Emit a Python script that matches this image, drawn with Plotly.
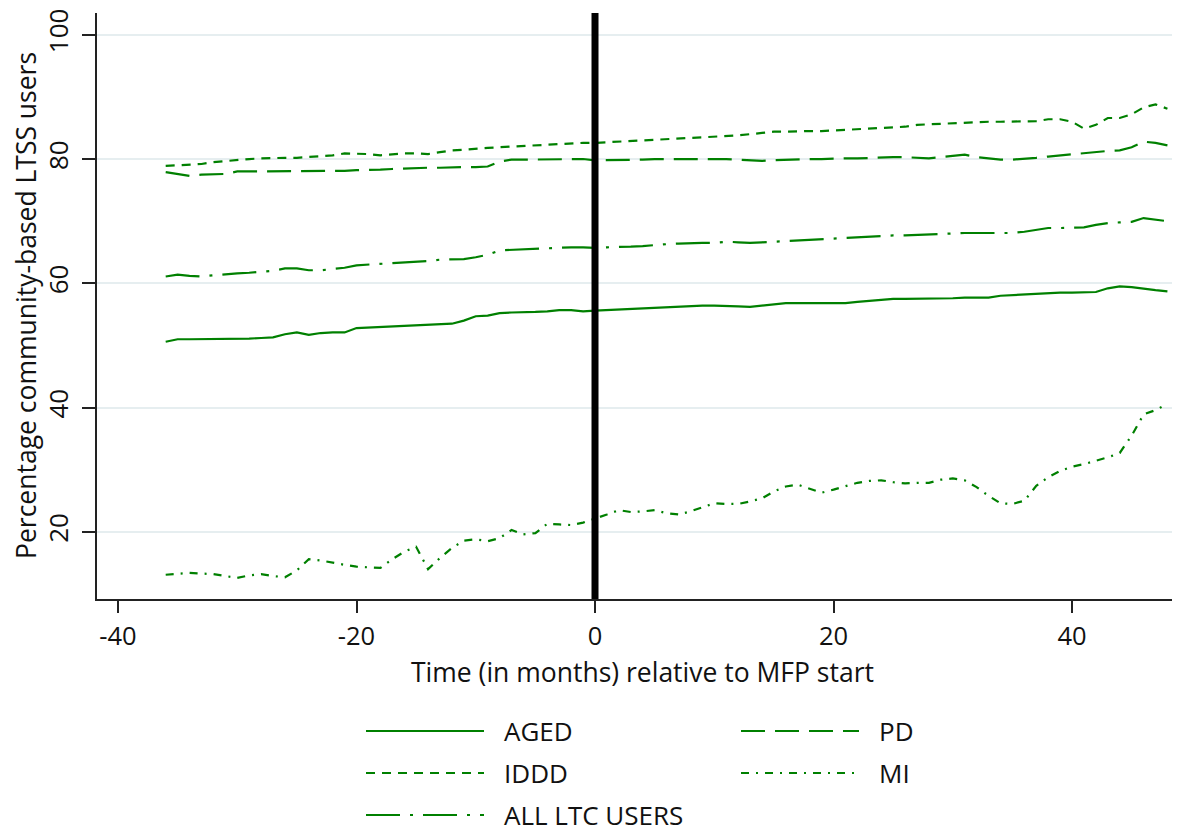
import plotly.graph_objects as go

months = list(range(-36, 49))

aged = [50.6, 51.0, 51.0, 51.0, 51.0, 51.0, 51.0, 51.1, 51.2, 51.3, 51.8, 52.1, 51.7, 52.0, 52.1, 52.1,
        52.8, 52.9, 53.0, 53.0, 53.1, 53.2, 53.3, 53.4, 53.5, 54.0, 54.7, 54.8, 55.2, 55.3, 55.3, 55.4,
        55.5, 55.7, 55.7, 55.5, 55.6, 55.7, 55.8, 55.9, 56.0, 56.1, 56.2, 56.2, 56.3, 56.4, 56.4, 56.4,
        56.3, 56.2, 56.4, 56.7, 56.8, 56.8, 56.8, 56.8, 56.8, 56.8, 57.0, 57.2, 57.3, 57.5, 57.5, 57.5,
        57.5, 57.5, 57.6, 57.7, 57.7, 57.7, 58.0, 58.1, 58.2, 58.4, 58.5, 58.5, 58.5, 58.5, 58.6, 59.2,
        59.5, 59.4, 59.1, 58.9, 58.7]

pd_vals = [77.9, 77.6, 77.3, 77.5, 77.6, 77.6, 78.0, 78.0, 78.0, 78.0, 78.0, 78.0, 78.0, 78.0, 78.1, 78.1,
           78.2, 78.2, 78.3, 78.4, 78.5, 78.5, 78.6, 78.6, 78.7, 78.7, 78.7, 78.8, 79.6, 79.9, 79.9, 79.9,
           79.9, 79.9, 80.0, 80.0, 79.8, 79.8, 79.8, 79.9, 79.9, 80.0, 80.0, 80.0, 80.1, 80.1, 80.0, 80.0,
           79.9, 79.8, 79.7, 79.8, 79.9, 79.9, 80.0, 80.0, 80.1, 80.1, 80.1, 80.2, 80.2, 80.3, 80.3, 80.2,
           80.1, 80.3, 80.5, 80.7, 80.3, 80.1, 79.9, 79.9, 80.0, 80.2, 80.4, 80.6, 80.7, 81.0, 81.2, 81.3,
           81.4, 81.9, 82.8, 82.6, 82.2]

iddd = [78.9, 79.0, 79.2, 79.2, 79.5, 79.7, 79.9, 80.0, 80.1, 80.2, 80.2, 80.2, 80.3, 80.4, 80.6, 80.9,
        80.9, 80.8, 80.6, 80.8, 80.9, 80.9, 80.8, 81.1, 81.4, 81.5, 81.7, 81.8, 81.9, 82.0, 82.1, 82.2,
        82.3, 82.5, 82.6, 82.6, 82.6, 82.7, 82.8, 82.9, 83.0, 83.1, 83.2, 83.3, 83.3, 83.4, 83.5, 83.6,
        83.8, 84.0, 84.2, 84.4, 84.4, 84.5, 84.5, 84.5, 84.6, 84.6, 84.7, 84.8, 84.9, 85.0, 85.2, 85.5,
        85.6, 85.7, 85.8, 85.9, 85.9, 86.0, 86.0, 86.0, 86.0, 86.1, 86.4, 86.4, 86.0, 84.9, 85.5, 86.6,
        86.6, 87.2, 88.3, 88.8, 88.1]

mi = [13.1, 13.2, 13.4, 13.3, 13.2, 12.9, 12.6, 13.0, 13.2, 12.9, 12.7, 13.8, 15.6, 15.4, 15.0, 14.7,
      14.4, 14.3, 14.2, 15.6, 16.8, 17.6, 14.0, 15.8, 17.4, 18.6, 18.8, 18.5, 19.0, 20.3, 19.6, 19.8,
      21.3, 21.2, 21.1, 21.5, 22.1, 22.8, 23.5, 23.2, 23.3, 23.5, 23.0, 22.8, 23.3, 24.0, 24.6, 24.5,
      24.5, 24.9, 25.4, 26.5, 27.3, 27.6, 27.0, 26.3, 26.8, 27.3, 27.9, 28.2, 28.3, 28.0, 27.8, 27.9,
      27.9, 28.4, 28.6, 28.3, 27.2, 25.8, 24.6, 24.5, 25.0, 27.4, 28.8, 29.8, 30.5, 30.9, 31.4, 32.0,
      32.7, 35.5, 38.9, 39.6, 40.6]

all_ltc = [61.1, 61.4, 61.2, 61.1, 61.3, 61.5, 61.6, 61.7, 61.8, 62.0, 62.4, 62.4, 62.1, 62.1, 62.3, 62.5,
           62.9, 63.0, 63.1, 63.2, 63.3, 63.5, 63.6, 63.8, 63.8, 63.9, 64.2, 64.6, 65.3, 65.4, 65.4, 65.6,
           65.7, 65.7, 65.8, 65.8, 65.7, 65.8, 65.8, 65.9, 66.0, 66.2, 66.3, 66.4, 66.5, 66.5, 66.5, 66.7,
           66.6, 66.5, 66.6, 66.7, 66.9, 67.0, 67.0, 67.1, 67.2, 67.3, 67.4, 67.5, 67.6, 67.7, 67.7, 67.8,
           67.9, 67.9, 68.0, 68.1, 68.1, 68.1, 68.1, 68.1, 68.3, 68.6, 68.9, 68.9, 69.0, 69.0, 69.4, 69.7,
           69.8, 69.9, 70.5, 70.3, 70.0]

series_names = ["AGED", "PD", "IDDD", "MI", "ALL LTC USERS"]
x_ticks = [-40, -20, 0, 20, 40]
y_ticks = [20, 40, 60, 80, 100]
x_title = "Time (in months) relative to MFP start"
y_title = "Percentage community-based LTSS users"

GREEN = "#008000"
TXT = "#111111"
FONT = "Open Sans"
dashes = {
    "AGED": "solid",
    "PD": "24px,10px",
    "IDDD": "9px,7px",
    "MI": "8px,7px,2px,7px",
    "ALL LTC USERS": "34px,10px,3px,10px",
}
data = {"AGED": aged, "PD": pd_vals, "IDDD": iddd, "MI": mi, "ALL LTC USERS": all_ltc}

fig = go.Figure()
for name in series_names:
    fig.add_trace(go.Scatter(x=months, y=data[name], mode="lines", name=name,
                             line=dict(color=GREEN, width=2.2, dash=dashes[name]),
                             showlegend=False))

# Figure geometry (pixels); page body adds a small offset, compensated here
OFF = 7
W, H = 1180, 832
ML, MR, MT, MB = 96 - OFF, 9, 12 - OFF, 241
pw, ph = W - ML - MR, H - MT - MB


def px2paper(px, py):
    """reference-screen pixel -> paper coords"""
    return (px - OFF - ML) / pw, (H - MB - (py - OFF)) / ph


fig.add_shape(type="line", xref="x", yref="paper", x0=0, x1=0, y0=0, y1=1,
              line=dict(color="black", width=7))

# Axis titles as annotations for exact placement
tx, ty = px2paper(641, 671)
fig.add_annotation(x=tx, y=ty, xref="paper", yref="paper", text=x_title, showarrow=False,
                   xanchor="center", yanchor="middle", font=dict(family=FONT, size=26.5, color=TXT))
tx, ty = px2paper(25, 305)
fig.add_annotation(x=tx, y=ty, xref="paper", yref="paper", text=y_title, showarrow=False,
                   textangle=-90, xanchor="center", yanchor="middle",
                   font=dict(family=FONT, size=26.5, color=TXT))

# Legend drawn manually (Stata style, two columns)
legend_layout = [("AGED", 365, 730), ("PD", 740, 730), ("IDDD", 365, 772),
                 ("MI", 740, 772), ("ALL LTC USERS", 365, 814)]
for name, lx, ly in legend_layout:
    x0, y0 = px2paper(lx, ly)
    x1, _ = px2paper(lx + 118, ly)
    fig.add_shape(type="line", xref="paper", yref="paper", x0=x0, x1=x1, y0=y0, y1=y0,
                  line=dict(color=GREEN, width=2.2, dash=dashes[name]))
    tx, _ = px2paper(lx + 136, ly)
    fig.add_annotation(x=tx, y=y0, xref="paper", yref="paper", text=name, showarrow=False,
                       xanchor="left", yanchor="middle",
                       font=dict(family=FONT, size=26, color=TXT))

fig.update_layout(
    width=W, height=H,
    margin=dict(l=ML, r=MR, t=MT, b=MB, autoexpand=False),
    paper_bgcolor="white", plot_bgcolor="white",
    font=dict(family=FONT, size=20, color=TXT),
    showlegend=False,
)
fig.update_xaxes(range=[-41.76, 48.97], tickvals=x_ticks, ticktext=[str(v) for v in x_ticks],
                 showgrid=False, zeroline=False, showline=True, linecolor="#222222", linewidth=1.5,
                 ticks="outside", ticklen=12, tickwidth=1.5, tickcolor="#222222",
                 tickfont=dict(family=FONT, size=25.5, color=TXT), ticklabelstandoff=2,
                 automargin=False)
fig.update_yaxes(range=[9.2, 103.5], tickvals=y_ticks, ticktext=[str(v) for v in y_ticks],
                 showgrid=True, gridcolor="#e6eef0", gridwidth=2, zeroline=False,
                 showline=True, linecolor="#222222", linewidth=1.5,
                 ticks="outside", ticklen=13, tickwidth=1.5, tickcolor="#222222",
                 tickangle=-90, ticklabelstandoff=4,
                 tickfont=dict(family=FONT, size=26, color=TXT),
                 automargin=False)

fig.write_html("out.html")
